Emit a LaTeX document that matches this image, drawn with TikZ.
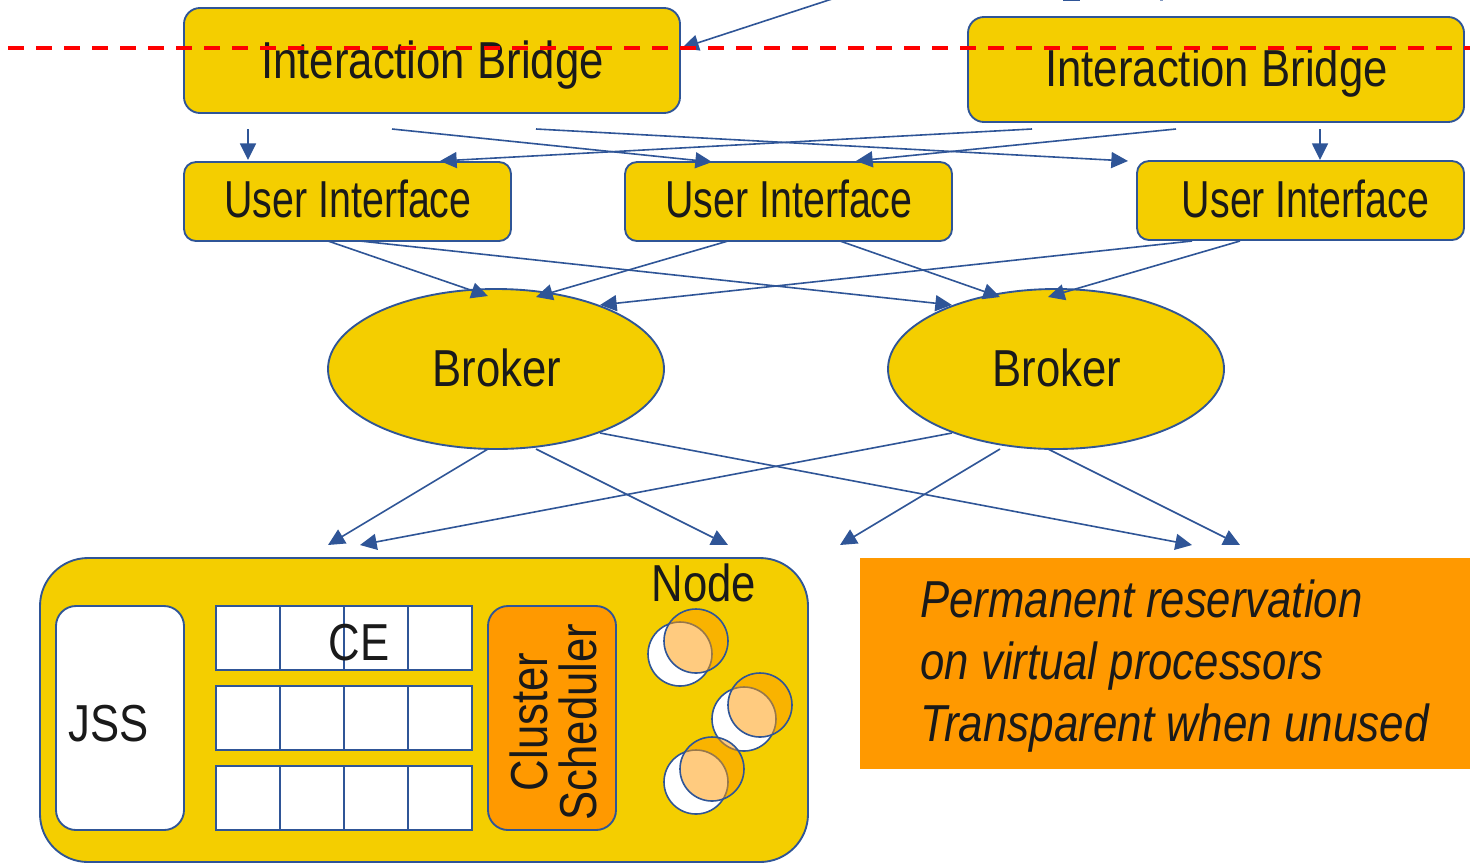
\documentclass[tikz,border=0pt]{standalone}
\usepackage{fontspec}
\setmainfont{Liberation Sans}
\newfontfamily\cond[FakeStretch=0.84]{Liberation Sans}
\newfontfamily\condui[FakeStretch=0.757]{Liberation Sans}
\usetikzlibrary{arrows.meta,shapes.geometric}
\definecolor{ylw}{HTML}{F4CE00}
\definecolor{org}{HTML}{FF9900}
\definecolor{bdr}{HTML}{2F5597}
\definecolor{ink}{HTML}{1A1A1A}
\tikzset{
  base/.style={draw=bdr,line width=1.4pt,inner sep=0pt,outer sep=0pt,text=ink},
  bridge/.style={base,fill=ylw,rounded corners=12pt,minimum width=372pt,minimum height=78.75pt},
  uibox/.style={base,fill=ylw,rounded corners=9pt,minimum width=245.25pt,minimum height=59.25pt},
  broker/.style={base,fill=ylw,ellipse,minimum width=252pt,minimum height=120pt},
  lbl/.style={inner sep=0pt,outer sep=0pt,text=ink,font=\cond\fontsize{39}{39}\selectfont},
  uilbl/.style={lbl,font=\condui\fontsize{39}{39}\selectfont},
  cell/.style={base,fill=white,minimum width=48pt,minimum height=48pt},
  conn/.style={draw=bdr,line width=1.2pt,-{Triangle[length=12.5pt,width=12pt]},shorten >=0pt},
  white disc/.style={draw=bdr,line width=1.2pt,fill=white,circle,minimum size=48pt,inner sep=0pt},
  orange disc/.style={draw=bdr,line width=1.2pt,fill=org,fill opacity=.5,circle,minimum size=48pt,inner sep=0pt},
}
\begin{document}
\begin{tikzpicture}[x=.75pt,y=-.75pt]
\clip (0,0) rectangle (1470,865);
\fill[white] (0,0) rectangle (1470,865);
% boxes
\node[bridge] (ib1) at (432,60.5) {};
\node[bridge] (ib2) at (1216,69.5) {};
\node[uibox] (ui1) at (347.5,201.5) {};
\node[uibox] (ui2) at (788.5,201.5) {};
\node[uibox] (ui3) at (1300.5,200.5) {};
\node[broker] (br1) at (496,369) {};
\node[broker] (br2) at (1056,369) {};
\node[base,fill=ylw,rounded corners=36pt,minimum width=576pt,minimum height=228pt] (outer) at (424,710) {};
\node[base,fill=white,rounded corners=15pt,minimum width=96pt,minimum height=168pt] (jss) at (120,718) {};
\foreach \r/\y in {1/638,2/718,3/798}{
  \foreach \c/\x in {1/248,2/312,3/376,4/440}{
    \node[cell] (c\r\c) at (\x,\y) {};
  }
}
\node[base,fill=org,rounded corners=15pt,minimum width=96pt,minimum height=168pt] (cs) at (552,718) {};
\node[fill=org,inner sep=0pt,minimum width=457.5pt,minimum height=158.25pt] (note) at (1165,663.5) {};
% discs
\node[white disc] (w1) at (680,654) {};
\node[orange disc] (o1) at (696,641) {};
\node[white disc] (w2) at (744,719) {};
\node[orange disc] (o2) at (760,705) {};
\node[white disc] (w3) at (696,782) {};
\node[orange disc] (o3) at (712,769) {};
% labels
\node[lbl] (t1) at (432.5,65) {Interaction Bridge};
\node[lbl] (t2) at (1216.5,73.5) {Interaction Bridge};
\node[uilbl] (t3) at (348,199) {User Interface};
\node[uilbl] (t4) at (789,199) {User Interface};
\node[uilbl] (t5) at (1305.5,199) {User Interface};
\node[lbl] (t6) at (497,368) {Broker};
\node[lbl] (t7) at (1057,368) {Broker};
\node[lbl] (t8) at (704,583) {Node};
\node[lbl] (t9) at (359,643) {CE};
\node[lbl] (t10) at (109,724) {JSS};
\node[lbl,rotate=90,align=center,font=\cond\fontsize{39}{37}\selectfont] (t11) at (553.5,722) {Cluster\\Scheduler};
\node[lbl,anchor=west,font=\cond\itshape\fontsize{39}{39}\selectfont] (n1) at (920.5,599) {Permanent reservation};
\node[lbl,anchor=west,font=\cond\itshape\fontsize{39}{39}\selectfont] (n2) at (920.5,666) {on virtual processors};
\node[lbl,anchor=west,font=\cond\itshape\fontsize{39}{39}\selectfont,xscale=1.008] (n3) at (920.5,728) {Transparent when unused};
% connector ends
\foreach \n/\x/\y in {
 a1/248/129,a2/248/160,b1/392/129,b2/712/162,c1/536/129,c2/1128/161,d1/1032/129,d2/440/161,
 e1/1176/129,e2/856/161,f1/1320/129,f2/1320/160,
 g1/328/241,g2/488/296,h1/360/241,h2/952/305,i1/728/241,i2/536/297,j1/840/241,j2/1000/297,
 k1/1192/241,k2/600/305,l1/1240/241,l2/1048/297,
 m1/488/449,m2/328/545,n4/536/449,n5/728/545,o4/952/433,o5/360/545,p1/1000/449,p2/840/545,
 q1/1048/449,q2/1240/545,r1/600/433,r2/1192/545,s1/832/-1,s2/682/48}{
  \coordinate (\n) at (\x,\y);
}
\foreach \s/\e in {a1/a2,b1/b2,c1/c2,d1/d2,e1/e2,f1/f2,g1/g2,h1/h2,i1/i2,j1/j2,k1/k2,l1/l2,m1/m2,n4/n5,o4/o5,p1/p2,q1/q2,r1/r2,s1/s2}{
  \draw[conn] (\s) -- (\e);
}
% arrowhead remnants cut by the top edge
\fill[bdr] (1063,-1) rectangle (1080,1);
\fill[bdr!60] (1160,-1) rectangle (1163,1);
% red dashed line
\coordinate (rl) at (8,48);
\coordinate (rr) at (1470,48);
\draw[red,line width=3pt,dash pattern=on 12pt off 9pt] (rl) -- (rr);
\end{tikzpicture}
\end{document}
